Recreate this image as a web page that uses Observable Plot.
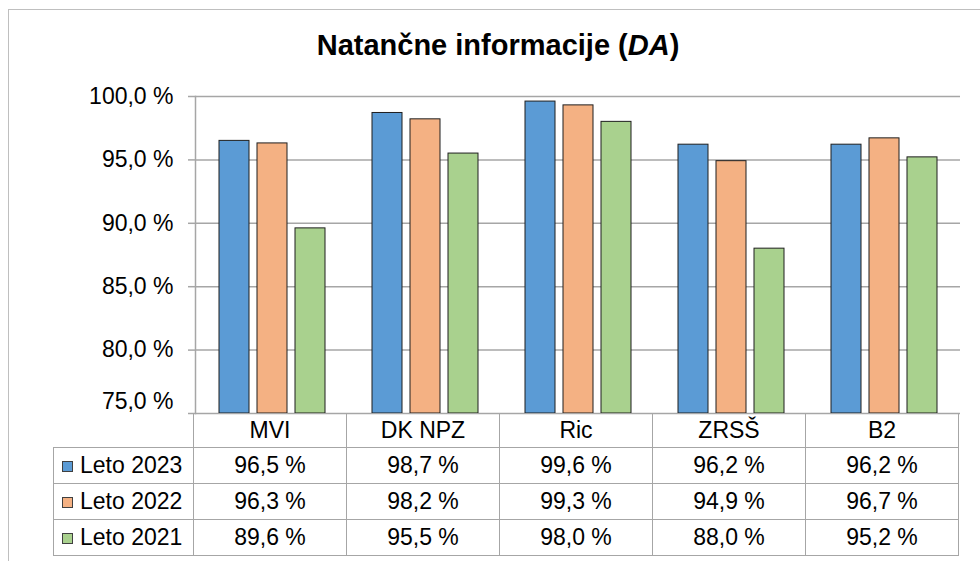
<!DOCTYPE html>
<html>
<head>
<meta charset="utf-8">
<script src="https://cdn.jsdelivr.net/npm/d3@7"></script>
<script src="https://cdn.jsdelivr.net/npm/@observablehq/plot@0.6"></script>
<style>
  html, body { margin: 0; padding: 0; background: #fff; }
  #wrap { position: relative; width: 980px; height: 561px; overflow: hidden; background: #fff;
          font-family: "Liberation Sans", Arial, sans-serif; color: #000; }
  #outer { position: absolute; left: 8px; top: 9px; width: 1000px; height: 600px;
           border: 1px solid #BFBFBF; box-sizing: border-box; }
  #title { position: absolute; left: 8px; width: 980px; top: 31px; text-align: center;
           font-size: 29px; font-weight: bold; line-height: 29px; }
  #plot { position: absolute; left: 0; top: 0; }
  #tbl { position: absolute; top: 413px; border-collapse: collapse; table-layout: fixed;
         font-size: 23px; }
  #tbl td { border: 1.5px solid #A6A6A6; text-align: center; padding: 0; white-space: nowrap; }
  #tbl td.blank { border: none; }
  #tbl td.leg { text-align: left; padding-left: 8px; }
  .sw { display: inline-block; width: 9px; height: 9px; border: 1px solid #404040;
        margin-right: 7px; vertical-align: 1px; }
</style>
</head>
<body>
<div id="wrap">
  <div id="outer"></div>
</div>
<script>
const categories = ["MVI", "DK NPZ", "Ric", "ZRSŠ", "B2"];
const series = ["Leto 2023", "Leto 2022", "Leto 2021"];
const v2023 = [96.5, 98.7, 99.6, 96.2, 96.2];
const v2022 = [96.3, 98.2, 99.3, 94.9, 96.7];
const v2021 = [89.6, 95.5, 98.0, 88.0, 95.2];
const yTicks = [75, 80, 85, 90, 95, 100];
const colors = ["#5B9BD5", "#F4B183", "#A9D18E"];
const titleMain = "Natančne informacije (";
const titleItalic = "DA";
const titleEnd = ")";

const seriesValues = [v2023, v2022, v2021];
const rows = [];
series.forEach((s, si) => categories.forEach((c, ci) => rows.push({cat: c, series: s, value: seriesValues[si][ci]})));
const fmt = v => v.toFixed(1).replace(".", ",") + " %";
const yMin = yTicks[0], yMax = yTicks[yTicks.length - 1];

const chart = Plot.plot({
  width: 980,
  height: 430,
  marginTop: 96,
  marginBottom: 17,
  marginLeft: 193,
  marginRight: 18,
  style: {fontFamily: "'Liberation Sans', Arial, sans-serif", fontSize: "23px", color: "#000", background: "transparent"},
  fx: {domain: categories, paddingInner: 0, paddingOuter: 0, axis: null, label: null},
  x: {domain: series, paddingInner: 0.218, paddingOuter: 0.58, axis: null, label: null},
  y: {domain: [yMin, yMax], label: null},
  color: {domain: series, range: colors},
  marks: [
    Plot.gridY(yTicks, {stroke: "#A6A6A6", strokeOpacity: 1, strokeWidth: 1.5}),
    Plot.barY(rows, {fx: "cat", x: "series", y1: yMin, y2: "value", fill: "series", stroke: "#1f1f1f", strokeWidth: 1}),
    Plot.frame({anchor: "left", facetAnchor: "left", stroke: "#A6A6A6", strokeWidth: 1.5}),
    Plot.axisY(yTicks, {anchor: "left", tickSize: 7, tickPadding: 15, stroke: "#A6A6A6", strokeWidth: 1.5,
      tickFormat: v => (v === yMin ? "" : fmt(v)), fill: "#000", label: null}),
    Plot.axisY([yMin], {anchor: "left", tickSize: 0, tickPadding: 22, dy: -12,
      tickFormat: fmt, fill: "#000", label: null})
  ]
});
chart.id = "plot";
const wrap = document.getElementById("wrap");
wrap.appendChild(chart);

// title
const title = document.createElement("div");
title.id = "title";
title.append(titleMain);
const it = document.createElement("i");
it.textContent = titleItalic;
title.append(it, titleEnd);
wrap.appendChild(title);

// data table aligned to the fx scale
let step = (980 - 193 - 18) / categories.length;
try { const fxs = chart.scale("fx"); if (fxs && fxs.step) step = fxs.step; } catch (e) {}
const legW = 140;
const tbl = document.createElement("table");
tbl.id = "tbl";
tbl.style.left = (193 - legW) + "px";
const cg = document.createElement("colgroup");
[legW, ...categories.map(() => step)].forEach(w => { const c = document.createElement("col"); c.style.width = w + "px"; cg.appendChild(c); });
tbl.appendChild(cg);
const hr = document.createElement("tr");
hr.style.height = "34px";
const blank = document.createElement("td"); blank.className = "blank"; hr.appendChild(blank);
categories.forEach(c => { const td = document.createElement("td"); td.textContent = c; hr.appendChild(td); });
tbl.appendChild(hr);
series.forEach((s, si) => {
  const tr = document.createElement("tr");
  tr.style.height = "36px";
  const lg = document.createElement("td"); lg.className = "leg";
  const sw = document.createElement("span"); sw.className = "sw"; sw.style.background = colors[si];
  lg.append(sw, s);
  tr.appendChild(lg);
  seriesValues[si].forEach(v => { const td = document.createElement("td"); td.textContent = fmt(v); tr.appendChild(td); });
  tbl.appendChild(tr);
});
wrap.appendChild(tbl);
</script>
</body>
</html>
